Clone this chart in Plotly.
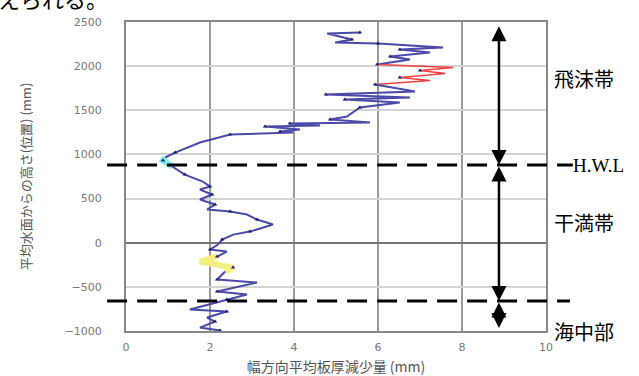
import plotly.graph_objects as go

# ---- data ----
loss_mm = [5.57, 4.79, 5.38, 4.98, 6.00, 7.55, 6.52, 7.24, 6.29, 6.76, 5.98,
           7.79, 7.00, 7.60, 6.52, 7.24, 5.93,
           6.88, 4.76, 6.76, 5.21, 6.52, 5.57, 5.26, 4.86, 5.81, 3.90, 4.62, 3.31,
           4.14, 3.67, 3.98, 2.48, 1.76, 1.17, 0.93,
           0.88, 1.10,
           1.40, 1.83, 2.00, 1.76, 2.05, 1.76, 2.12, 1.93, 2.48, 2.88, 3.12, 3.50,
           2.95, 2.55, 2.29, 2.19, 2.00, 2.40, 2.17,
           1.76, 2.55, 2.36,
           2.17, 3.12, 2.17, 2.88, 2.40, 1.52, 2.40, 1.93, 2.12, 1.76, 2.24]
height_mm = [2381, 2370, 2302, 2268, 2256, 2211, 2188, 2154, 2109, 2075, 2018,
             1984, 1950, 1916, 1871, 1837, 1792,
             1713, 1679, 1645, 1622, 1588, 1531, 1429, 1395, 1361, 1350, 1327, 1316,
             1282, 1259, 1248, 1225, 1135, 1021, 965,
             931, 863,
             772, 693, 636, 602, 546, 489, 432, 376, 353, 319, 262, 206,
             126, 92, 35, -21, -78, -100, -157,
             -213, -282, -327,
             -417, -451, -553, -587, -644, -757, -780, -848, -893, -961, -995]

# segments of the profile: (first index, last index, colour, width)
segments = [(0, 10, "#4a4aa8", 2), (10, 16, "#f04040", 1.5), (16, 35, "#4a4aa8", 2),
            (35, 37, "#7eeaea", 6), (37, 56, "#4a4aa8", 2), (56, 59, "#f4f080", 6),
            (59, 70, "#4a4aa8", 2)]

x_ticks = [0, 2, 4, 6, 8, 10]
y_ticks = [-1000, -500, 0, 500, 1000, 1500, 2000, 2500]
hwl_level = 880
lwl_level = -660
arrow_top = 2470
arrow_bottom = -965
arrow_x = 8.88

zones = [("飛沫帯", 1860), ("干満帯", 230), ("海中部", -1000)]

fig = go.Figure()
for a, b, col, w in segments:
    xs = loss_mm[a:b + 1]
    ys = height_mm[a:b + 1]
    fig.add_trace(go.Scatter(x=xs, y=ys, mode="lines", line=dict(color=col, width=w),
                             showlegend=False, hoverinfo="skip"))
# dark markers on the blue profile
fig.add_trace(go.Scatter(x=loss_mm[::2], y=height_mm[::2], mode="markers",
                         marker=dict(color="#22226e", size=4, symbol="triangle-up"),
                         showlegend=False, hoverinfo="skip"))

# dashed levels
for lvl, x1 in [(hwl_level, 1.064), (lwl_level, 1.057)]:
    fig.add_shape(type="line", xref="paper", yref="y", x0=-0.045, x1=x1, y0=lvl, y1=lvl,
                  line=dict(color="black", width=3, dash="20px,10px"))

# double-headed arrows
for y_a, y_b in [(arrow_top, hwl_level), (hwl_level, lwl_level), (lwl_level, arrow_bottom)]:
    fig.add_annotation(x=arrow_x, y=y_b, ax=arrow_x, ay=y_a, xref="x", yref="y",
                       axref="x", ayref="y", text="", showarrow=True,
                       arrowhead=2, startarrowhead=2, arrowside="end+start",
                       arrowsize=1.2, startarrowsize=1.2, arrowwidth=2.5, arrowcolor="black")

for name, yv in zones:
    fig.add_annotation(x=1.015, xref="paper", y=yv, yref="y", text=name, showarrow=False,
                       xanchor="left", yanchor="middle",
                       font=dict(family="Noto Sans CJK JP", size=20, color="black"))
fig.add_annotation(x=1.064, xref="paper", y=hwl_level, yref="y", text="H.W.L", showarrow=False,
                   xanchor="left", yanchor="middle", xshift=-2,
                   font=dict(family="Liberation Serif", size=19, color="black"))

# cut-off text line from the surrounding document
fig.add_annotation(x=-0.3, xref="paper", y=1.078, yref="paper", text="えられる。", showarrow=False,
                   xanchor="left", yanchor="middle", xshift=-4,
                   font=dict(family="Noto Sans CJK JP", size=22, color="black"))

fig.update_layout(
    width=639, height=376,
    margin=dict(l=126, r=93, t=22, b=45, autoexpand=False),
    paper_bgcolor="white", plot_bgcolor="white",
    font=dict(family="DejaVu Sans", color="#666"),
    xaxis=dict(range=[0, 10], tickvals=x_ticks, showgrid=True, gridcolor="#9a9a9a",
               gridwidth=1.5, zeroline=False, showline=True, linecolor="#888", linewidth=2,
               mirror=True, tickfont=dict(size=11, color="#777"), ticks="",
               ticklabelstandoff=5, automargin=False,
               title=dict(text="幅方向平均板厚減少量 (mm)", standoff=10,
                          font=dict(family="Noto Sans CJK JP", size=14, color="#555"))),
    yaxis=dict(range=[-1000, 2500], tickvals=y_ticks, showgrid=True, gridcolor="#d4d4d4",
               gridwidth=1.5, zeroline=True, zerolinecolor="#777", zerolinewidth=1.5,
               showline=True, linecolor="#888", linewidth=2, mirror=True,
               tickfont=dict(size=11, color="#777"), ticks="", ticklabelstandoff=20,
               automargin=False,
               title=dict(text="平均水面からの高さ(位置) (mm)", standoff=30,
                          font=dict(family="Noto Sans CJK JP", size=13, color="#555"))),
)

fig.write_html("out.html", config={"displayModeBar": False},
               post_script="document.body.style.margin='0';document.body.style.overflow='hidden';")
